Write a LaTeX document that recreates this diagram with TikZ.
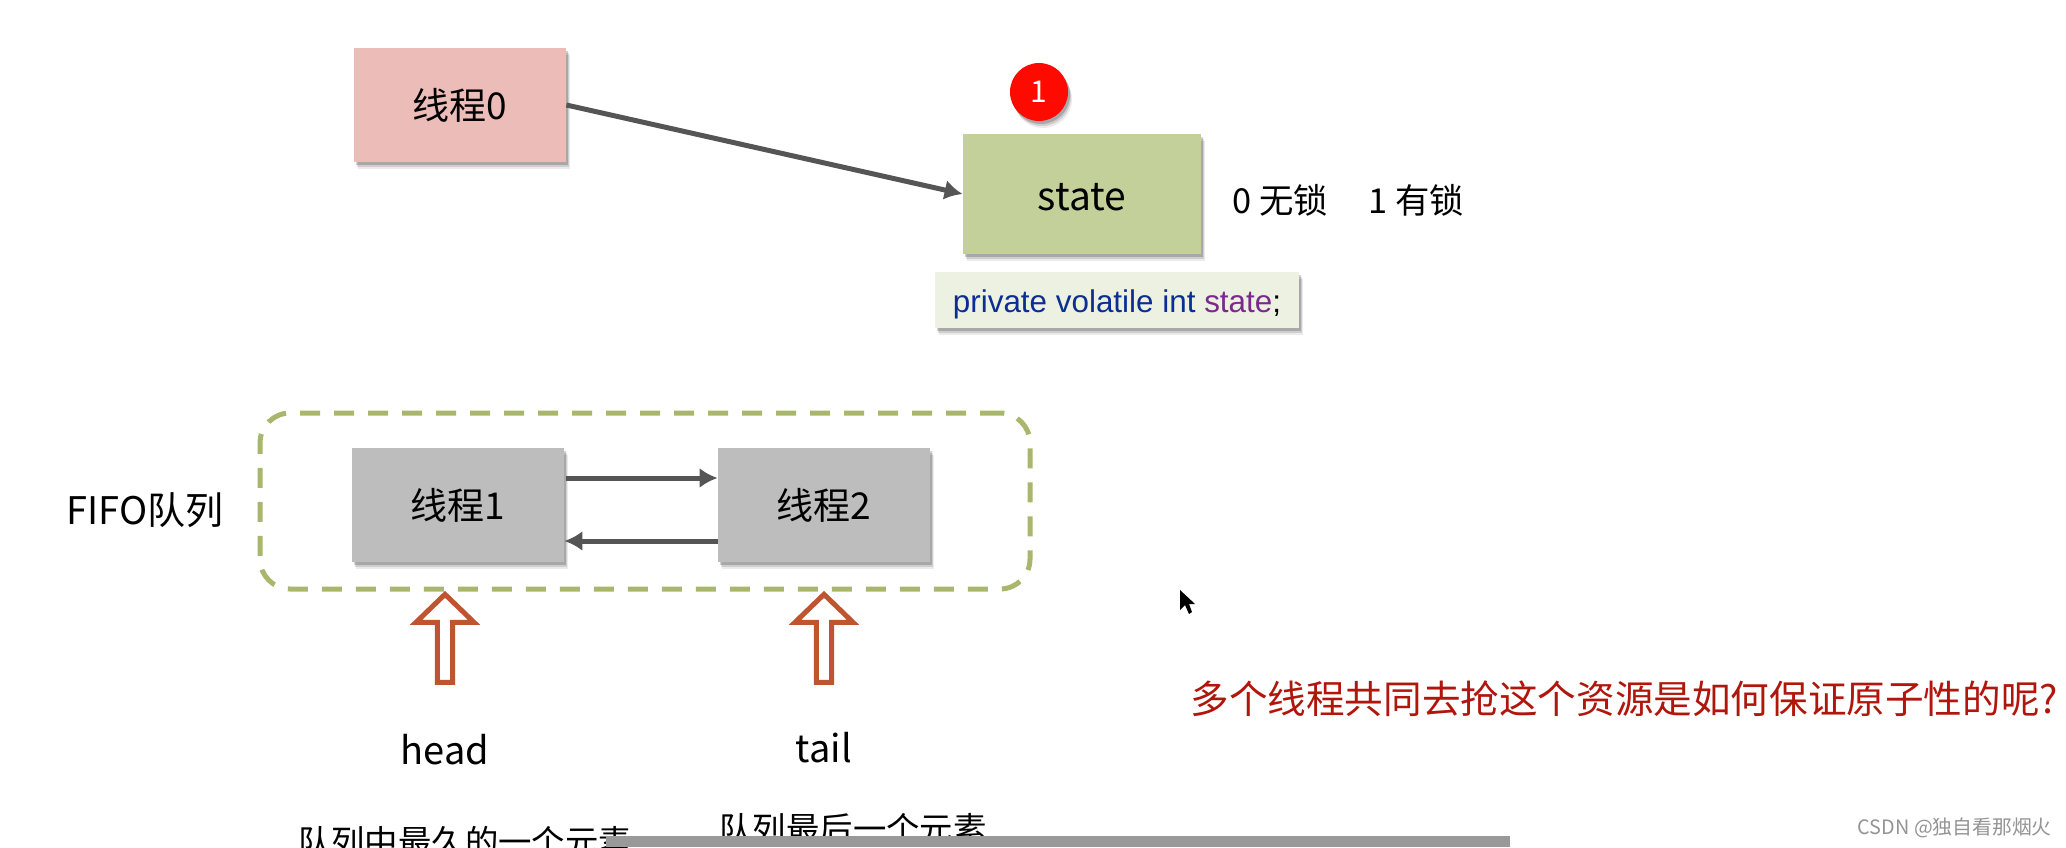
\documentclass[tikz,border=0pt]{standalone}
\usepackage{fontspec}
\setmainfont{Noto Sans CJK SC}
\newfontfamily\codefont{Liberation Sans}
\usetikzlibrary{calc, arrows.meta, shadows, shapes.arrows}
\definecolor{pinkfill}{HTML}{EBBCB8}
\definecolor{greenfill}{HTML}{C3D09A}
\definecolor{grayfill}{HTML}{BDBDBD}
\definecolor{codefill}{HTML}{EDF1E1}
\definecolor{linkgray}{HTML}{555555}
\definecolor{dashgreen}{HTML}{A9B76C}
\definecolor{rust}{HTML}{BE5430}
\definecolor{codeblue}{HTML}{0B2E92}
\definecolor{codepurple}{HTML}{7A2A8C}
\definecolor{askred}{HTML}{B0160C}
\tikzset{
  softshadow/.style={
    drop shadow={shadow xshift=2pt,shadow yshift=-3.5pt,fill=black,opacity=0.08},
    drop shadow={shadow xshift=1.5pt,shadow yshift=-2.5pt,fill=black,opacity=0.12},
    drop shadow={shadow xshift=1pt,shadow yshift=-1.5pt,fill=black,opacity=0.18}},
  threadbox/.style={rectangle,minimum width=106pt,minimum height=57pt,inner sep=0pt,softshadow,font=\fontsize{18.5}{22}\selectfont},
  link/.style={draw=linkgray,line width=2.5pt,-{Latex[length=9pt,width=10pt]}},
  hollowarrow/.style={single arrow,shape border rotate=90,draw=rust,fill=white,line width=2.5pt,inner sep=0pt,
    minimum width=29pt,minimum height=44pt,single arrow head extend=3.5pt,single arrow tip angle=92},
  plain/.style={inner sep=0pt,font=\fontsize{19}{23}\selectfont},
  note/.style={inner sep=0pt,font=\fontsize{17.2}{20}\selectfont}
}
\begin{document}
\begin{tikzpicture}[x=0.5pt,y=-0.5pt]
  \clip (0,0) rectangle (2066,847);
  \fill[white] (0,0) rectangle (2066,847);
  % upper part
  \node[threadbox,fill=pinkfill] (T0) at (460,105) {线程0};
  \node[threadbox,fill=greenfill,minimum width=119pt,minimum height=60pt,text height=17pt,font=\fontsize{19.5}{23}\selectfont] (S) at (1082,194) {state};
  \node[circle,fill=red!92!orange,minimum size=29pt,inner sep=0pt,text=white,softshadow,font=\fontsize{15}{17}\selectfont] (B) at (1039,92) {1};
  \node[note,anchor=west] (L0) at (1232,200) {0 无锁};
  \node[note,anchor=west] (L1) at (1368,200) {1 有锁};
  \node[rectangle,fill=codefill,minimum width=182pt,minimum height=28pt,inner sep=0pt,text height=15.5pt,softshadow,font=\codefont\fontsize{15.7}{19}\selectfont] (C) at (1117,300)
    {\textcolor{codeblue}{private volatile int} \textcolor{codepurple}{state}\textcolor{black}{;}};
  \draw[link] (T0.east) -- (S.west);
  % queue
  \node[rectangle,draw=dashgreen,line width=2.5pt,rounded corners=15pt,dash pattern=on 10pt off 7pt,minimum width=385pt,minimum height=88pt] (Q) at (645,501) {};
  \node[threadbox,fill=grayfill] (T1) at (458,505) {线程1};
  \node[threadbox,fill=grayfill] (T2) at (824,505) {线程2};
  \node[plain,anchor=west] (F) at (66,510) {FIFO队列};
  \draw[link] ($(T1.east)+(2,-27)$) -- ($(T2.west)+(0,-27)$);
  \draw[link] ($(T2.west)+(0,36)$) -- ($(T1.east)+(0,36)$);
  % pointers
  \node[hollowarrow] (AH) at (445,642) {};
  \node[hollowarrow] (AT) at (824,642) {};
  \node[plain] (H) at (445,750) {head};
  \node[plain] (Z) at (824,748) {tail};
  \node[inner sep=0pt,font=\fontsize{16.7}{20}\selectfont] (HT) at (465,842) {队列中最久的一个元素};
  \node[inner sep=0pt,font=\fontsize{16.7}{20}\selectfont] (ZT) at (853,829) {队列最后一个元素};
  % question
  \node[inner sep=0pt,anchor=west,text=askred,font=\fontsize{19.3}{23}\selectfont] (W) at (1190,699) {多个线程共同去抢这个资源是如何保证原子性的呢?};
  % screen leftovers
  \fill[black!40] (606,836) rectangle (1510,847);
  \fill[black] (1180,590) -- (1180,610) -- (1185,605) -- (1189,614) -- (1192,612) -- (1189,604) -- (1195,604) -- cycle;
  \node[inner sep=0pt,anchor=east,text=black!42,font=\fontsize{9.9}{12}\selectfont] (M) at (2052,828) {CSDN @独自看那烟火};
\end{tikzpicture}
\end{document}
